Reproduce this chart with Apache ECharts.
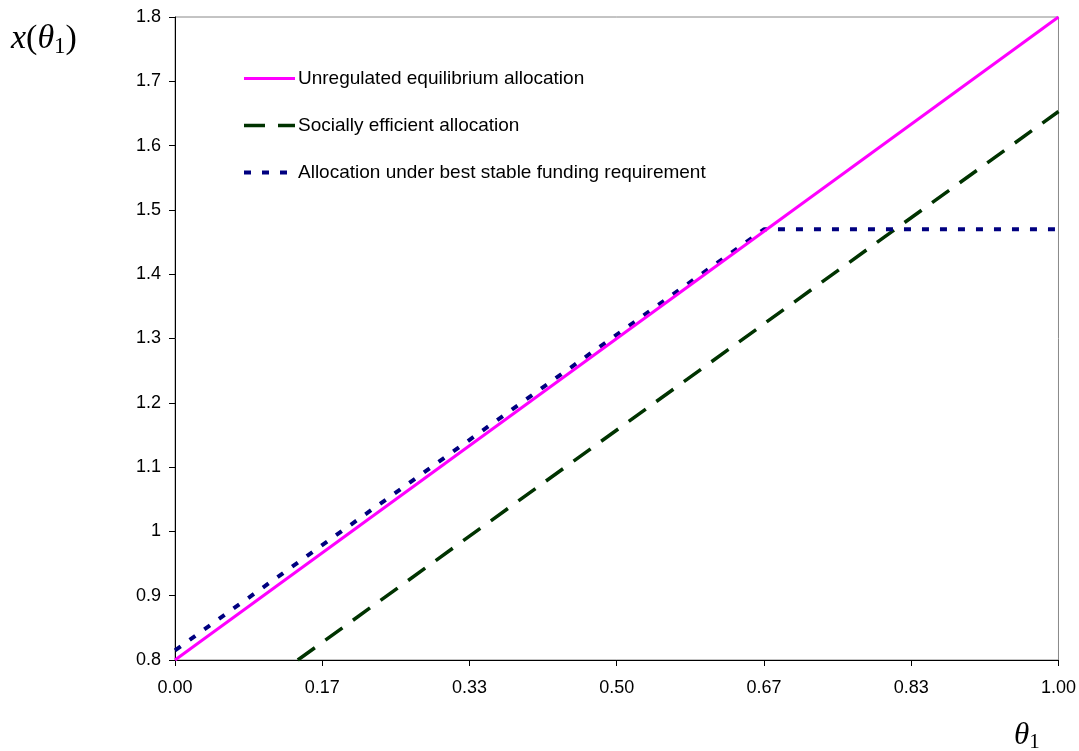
<!DOCTYPE html>
<html><head><meta charset="utf-8">
<script src="https://cdn.jsdelivr.net/npm/echarts@6/dist/echarts.min.js"></script>
<style>html,body{margin:0;padding:0;background:#fff}#c{width:1079px;height:751px}</style>
</head><body><div id="c"></div>
<script>
const seriesNames = ['Unregulated equilibrium allocation','Socially efficient allocation','Allocation under best stable funding requirement'];
const unregulated = [[0,0.8],[1,1.8]];
const efficient = [[0.139,0.8],[1,1.653]];
const stableFunding = [[0,0.815],[0.667,1.47],[1,1.47]];
const xTicks = ['0.00','0.17','0.33','0.50','0.67','0.83','1.00'];

const chart = echarts.init(document.getElementById('c'));
const font = 'Liberation Sans, Arial, sans-serif';
const serif = 'Liberation Serif, DejaVu Serif, serif';
const styles = [
  {color:'#ff00ff',width:3,type:'solid'},
  {color:'#003300',width:3.5,type:[21,13]},
  {color:'#000080',width:4,type:[7,11]}
];
chart.setOption({
  animation:false,
  backgroundColor:'#fff',
  grid:{left:175,right:20,top:17,bottom:91,show:true,borderColor:'#888',borderWidth:1},
  legend:{
    orient:'vertical',left:237,top:64,itemWidth:51,itemHeight:14,itemGap:28,
    itemStyle:{opacity:0},
    textStyle:{fontFamily:font,fontSize:19,color:'#000',padding:[0,0,0,-2]},
    data:seriesNames.map((n,i)=>({name:n,lineStyle:{width:styles[i].width,color:styles[i].color,type:styles[i].type}}))
  },
  xAxis:{type:'value',min:0,max:1,interval:1/6,
    axisLine:{show:true,lineStyle:{color:'#000',width:1}},
    axisTick:{show:true,length:6,lineStyle:{color:'#000'}},
    splitLine:{show:false},
    axisLabel:{margin:19,fontFamily:font,fontSize:18,color:'#000',
      formatter:(v)=>xTicks[Math.round(v*6)]}
  },
  yAxis:{type:'value',min:0.8,max:1.8,interval:0.1,
    axisLine:{show:true,lineStyle:{color:'#000',width:1}},
    axisTick:{show:true,length:6,lineStyle:{color:'#000'}},
    splitLine:{show:false},
    axisLabel:{margin:14,fontFamily:font,fontSize:18,color:'#000',
      formatter:(v)=>{const r=Math.round(v*10)/10; return r===1?'1':String(r);}}
  },
  graphic:[
    {type:'text',left:11,top:22,style:{text:'{i|x}{n|(}{i|θ}{s|1}{n|)}',rich:{
      i:{fontFamily:serif,fontStyle:'italic',fontSize:34,fill:'#000'},
      n:{fontFamily:serif,fontSize:34,fill:'#000'},
      s:{fontFamily:serif,fontSize:23,fill:'#000',padding:[15,0,0,0]}
    }}},
    {type:'text',left:1014,top:720,style:{text:'{i|θ}{s|1}',rich:{
      i:{fontFamily:serif,fontStyle:'italic',fontSize:31,fill:'#000'},
      s:{fontFamily:serif,fontSize:21,fill:'#000',padding:[14,0,0,0]}
    }}}
  ],
  series:seriesNames.map((n,i)=>({
    name:n,type:'line',data:[unregulated,efficient,stableFunding][i],symbol:'none',
    lineStyle:styles[i],itemStyle:{color:styles[i].color},z:i===0?3:2
  }))
});
</script></body></html>
